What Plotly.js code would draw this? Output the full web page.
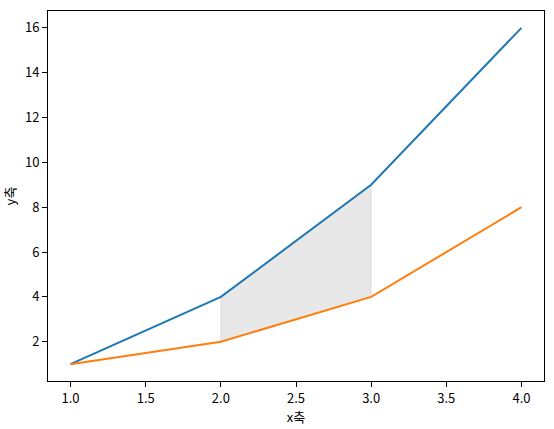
<!DOCTYPE html>
<html>
<head>
<meta charset="utf-8">
<script src="https://cdn.plot.ly/plotly-3.0.1.min.js"></script>
<style>html,body{margin:0;padding:0;background:#fff;}#chart{width:554px;height:429px;}</style>
</head>
<body>
<div id="chart"></div>
<script>
const xs = [1, 2, 3, 4];
const ySquare = [1, 4, 9, 16];
const yPow2 = [1, 2, 4, 8];
const fillFrom = 2;
const fillTo = 3;
const xTicks = [1.0, 1.5, 2.0, 2.5, 3.0, 3.5, 4.0];
const xTickLabels = ["1.0", "1.5", "2.0", "2.5", "3.0", "3.5", "4.0"];
const yTicks = [2, 4, 6, 8, 10, 12, 14, 16];

const idx = xs.map((v, i) => i).filter(i => xs[i] >= fillFrom && xs[i] <= fillTo);
const polyX = idx.map(i => xs[i]).concat(idx.slice().reverse().map(i => xs[i]));
const polyY = idx.map(i => ySquare[i]).concat(idx.slice().reverse().map(i => yPow2[i]));
polyX.push(polyX[0]); polyY.push(polyY[0]);

const font = {family: "'Noto Sans CJK KR', 'DejaVu Sans', sans-serif", size: 13, color: '#000'};

const data = [
  {x: polyX, y: polyY, mode: 'lines', fill: 'toself', fillcolor: 'rgba(128,128,128,0.18)',
   line: {color: 'rgba(128,128,128,0.2)', width: 1}, hoverinfo: 'skip', showlegend: false},
  {x: xs, y: ySquare, mode: 'lines', line: {color: '#1f77b4', width: 2}, showlegend: false},
  {x: xs, y: yPow2, mode: 'lines', line: {color: '#ff7f0e', width: 2}, showlegend: false}
];

const axisCommon = {
  showgrid: false, zeroline: false, showline: true, mirror: true,
  linecolor: '#000', linewidth: 1, ticks: 'outside', ticklen: 5, tickwidth: 1,
  tickcolor: '#000', tickfont: font
};

const layout = {
  width: 554, height: 429,
  margin: {l: 48, r: 10, t: 11, b: 48},
  paper_bgcolor: '#fff', plot_bgcolor: '#fff',
  font: font,
  xaxis: Object.assign({}, axisCommon, {
    range: [0.85, 4.15], tickvals: xTicks, ticktext: xTickLabels,
    title: {text: 'x축', font: font, standoff: 4}
  }),
  yaxis: Object.assign({}, axisCommon, {
    range: [0.25, 16.75], tickvals: yTicks,
    title: {text: 'y축', font: font, standoff: 6}
  })
};

Plotly.newPlot('chart', data, layout, {displayModeBar: false, staticPlot: true});
</script>
</body>
</html>
